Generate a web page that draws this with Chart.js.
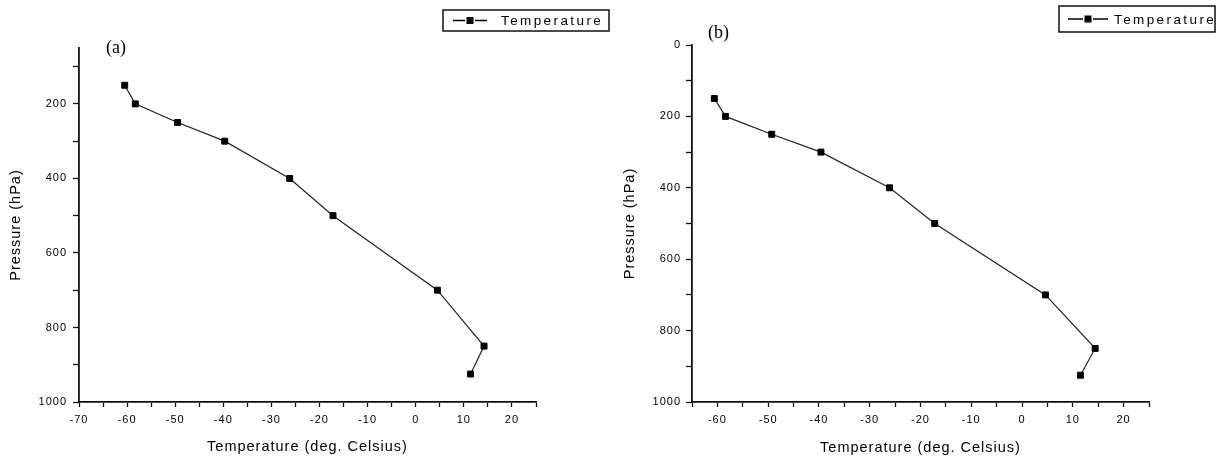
<!DOCTYPE html>
<html>
<head>
    <title>Temperature Profiles</title>
    <script src="https://cdn.jsdelivr.net/npm/chart.js"></script>
    <style>
        body { margin: 0; background: #fff; }
        canvas { position: absolute; top: 0; }
    </style>
</head>
<body>
    <canvas id="chartA" width="611" height="462" style="left:0px"></canvas>
    <canvas id="chartB" width="611" height="462" style="left:611px"></canvas>

    <script>
        // pressure levels (hPa) and temperatures
        const pressureLevels = [150, 200, 250, 300, 400, 500, 700, 850, 925];
        const tempA = [-60.5, -58.3, -49.5, -39.7, -26.2, -17.2, 4.5, 14.2, 11.4];
        const tempB = [-60.6, -58.4, -49.3, -39.6, -26.1, -17.2, 4.6, 14.4, 11.5];
        const seriesLabel = 'Temperature';
        const xTitle = 'Temperature (deg. Celsius)';
        const yTitle = 'Pressure (hPa)';
        const panelTags = ['(a)', '(b)'];

        const ink = '#000';

        // boxed legend + panel tag, drawn on top of the chart
        const boxLegend = {
            id: 'boxLegend',
            beforeDraw(chart) {
                chart.ctx.letterSpacing = '1px';
            },
            afterDraw(chart, args, o) {
                const ctx = chart.ctx;
                ctx.save();
                // panel tag
                ctx.letterSpacing = '0px';
                ctx.fillStyle = '#000';
                ctx.font = '18px "Liberation Serif"';
                ctx.textBaseline = 'alphabetic';
                ctx.textAlign = 'left';
                ctx.fillText(o.tag, o.tagX, o.tagY);

                // legend box
                const [bx, by, bw, bh] = o.box;
                ctx.strokeStyle = '#111';
                ctx.lineWidth = 1.5;
                ctx.strokeRect(bx, by, bw, bh);
                const ds = chart.data.datasets[0];
                const my = by + bh / 2;
                const [s0, s1] = o.sym;
                const cx = (s0 + s1) / 2;
                ctx.strokeStyle = ink;
                ctx.lineWidth = 1.3;
                ctx.beginPath();
                ctx.moveTo(s0, my);
                ctx.lineTo(cx - 5, my);
                ctx.moveTo(cx + 5, my);
                ctx.lineTo(s1, my);
                ctx.stroke();
                ctx.fillStyle = ds.pointBackgroundColor;
                ctx.fillRect(cx - 3.5, my - 3.5, 7, 7);
                ctx.letterSpacing = '2.4px';
                ctx.font = '13.5px "Liberation Sans"';
                ctx.textBaseline = 'middle';
                ctx.fillStyle = ink;
                ctx.fillText(ds.label, o.textX, my + 1);
                ctx.restore();
            }
        };

        function makeChart(id, temps, xMin, yMin, lay) {
            const points = pressureLevels.map((p, i) => ({ x: temps[i], y: p }));
            return new Chart(document.getElementById(id), {
                type: 'scatter',
                data: {
                    datasets: [{
                        label: seriesLabel,
                        data: points,
                        showLine: true,
                        borderColor: '#222',
                        borderWidth: 1.2,
                        pointStyle: 'rect',
                        pointRadius: 4.2,
                        pointBorderWidth: 1,
                        pointBackgroundColor: '#000',
                        pointBorderColor: '#000',
                        tension: 0
                    }]
                },
                options: {
                    responsive: false,
                    animation: false,
                    layout: { padding: { left: 0, top: lay.top, right: lay.right, bottom: 0 } },
                    plugins: {
                        legend: { display: false },
                        tooltip: { enabled: false },
                        boxLegend: lay.legend
                    },
                    scales: {
                        x: {
                            type: 'linear',
                            min: xMin,
                            max: 25,
                            afterFit: s => { s.height = 60; },
                            border: { color: '#111', width: 1.8 },
                            grid: { drawOnChartArea: false, tickLength: 5, tickColor: '#111', tickWidth: 1.3 },
                            ticks: {
                                stepSize: 5,
                                autoSkip: false,
                                maxRotation: 0,
                                padding: 6,
                                color: ink,
                                font: { family: 'Liberation Sans', size: 11 },
                                callback: v => (v % 10 === 0 ? v : '')
                            },
                            title: {
                                display: true,
                                text: xTitle,
                                color: ink,
                                font: { family: 'Liberation Sans', size: 14.5 },
                                padding: { top: 0, bottom: lay.xTitlePad }
                            }
                        },
                        y: {
                            type: 'linear',
                            reverse: true,
                            min: yMin,
                            max: 1000,
                            afterFit: s => { s.width = lay.left; },
                            border: { color: '#111', width: 1.8 },
                            grid: { drawOnChartArea: false, tickLength: 6, tickColor: '#111', tickWidth: 1.3 },
                            ticks: {
                                stepSize: 100,
                                includeBounds: false,
                                autoSkip: false,
                                padding: lay.yTickPad,
                                color: ink,
                                font: { family: 'Liberation Sans', size: 11 },
                                callback: v => (v % 200 === 0 ? v : '')
                            },
                            title: {
                                display: true,
                                text: yTitle,
                                color: ink,
                                font: { family: 'Liberation Sans', size: 14.5 },
                                padding: { top: lay.yTitlePad, bottom: 0 }
                            }
                        }
                    }
                },
                plugins: [boxLegend]
            });
        }

        makeChart('chartA', tempA, -70, 50, {
            left: 79, top: 48, right: 75,
            xTitlePad: 6.5, yTitlePad: 7.5, yTickPad: 6,
            legend: { tag: panelTags[0], tagX: 106, tagY: 53, box: [443, 10, 166, 21], sym: [453, 487], textX: 501 }
        });

        makeChart('chartB', tempB, -65, 0, {
            left: 81, top: 45, right: 73,
            xTitlePad: 5, yTitlePad: 10.5, yTickPad: 5,
            legend: { tag: panelTags[1], tagX: 97, tagY: 38, box: [448, 6, 156, 26], sym: [457, 497], textX: 503 }
        });
    </script>
</body>
</html>
